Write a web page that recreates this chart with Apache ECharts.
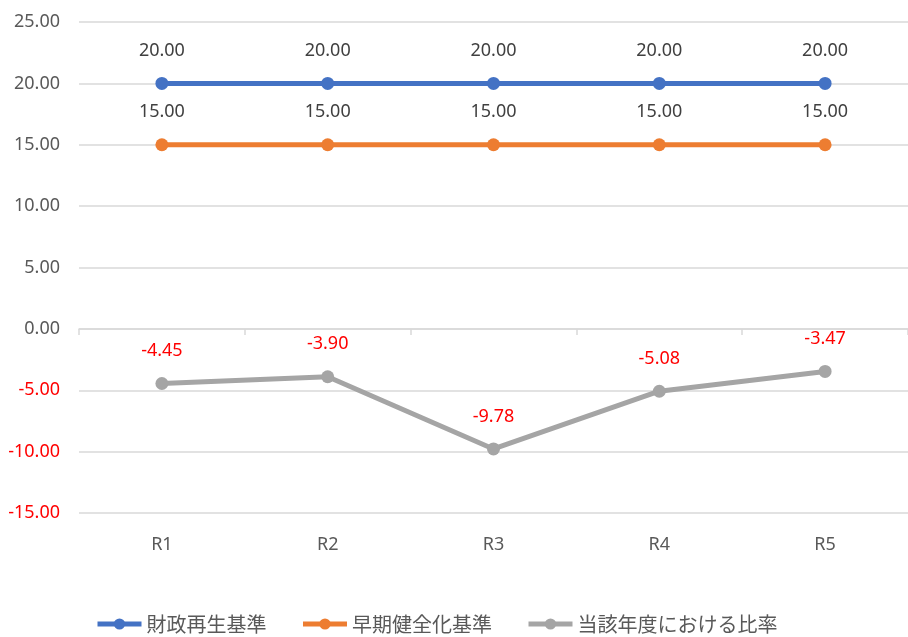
<!DOCTYPE html>
<html><head><meta charset="utf-8">
<script src="https://cdn.jsdelivr.net/npm/echarts@6/dist/echarts.min.js"></script>
<style>html,body{margin:0;padding:0;background:#fff}#c{width:908px;height:637px}</style>
</head><body><div id="c"></div>
<script>
const categories = ['R1','R2','R3','R4','R5'];
const seriesNames = ['財政再生基準','早期健全化基準','当該年度における比率'];
const saisei = [20,20,20,20,20];
const souki = [15,15,15,15,15];
const hiritsu = [-4.45,-3.90,-9.78,-5.08,-3.47];
const yTicks = [-15,-10,-5,0,5,10,15,20,25];
const colors = ['#4472C4','#ED7D31','#A5A5A5'];
const font = '"Noto Sans", "Noto Sans CJK JP", sans-serif';
const cjkFont = '"Noto Sans CJK JP", "Noto Sans", sans-serif';

const chart = echarts.init(document.getElementById('c'));
function mk(name, data, color, labelColor){
  return {
    name, type:'line', data, color,
    symbol:'circle', symbolSize:13,
    lineStyle:{width:5,color},
    itemStyle:{color},
    label:{show:true,position:'top',distance:17,fontSize:18,fontFamily:font,color:labelColor,
      formatter:p=>p.value.toFixed(2)},
    animation:false
  };
}
chart.setOption({
  animation:false,
  textStyle:{fontFamily:font},
  grid:{left:79,right:0,top:22,bottom:124,containLabel:false},
  xAxis:[{
    type:'category',data:categories,position:'bottom',
    axisLine:{show:false,onZero:false},axisTick:{show:false},
    axisLabel:{fontSize:18,color:'#595959',margin:23,fontFamily:font}
  },{
    type:'category',data:categories,position:'top',
    axisLine:{show:true,onZero:true,onZeroAxisIndex:0,lineStyle:{color:'#D9D9D9',width:1.5}},
    axisTick:{show:true,inside:true,length:6,lineStyle:{color:'#D9D9D9',width:1.5}},
    axisLabel:{show:false}
  }],
  yAxis:{
    type:'value',min:yTicks[0],max:yTicks[yTicks.length-1],interval:5,
    axisLine:{show:false},axisTick:{show:false},
    splitLine:{lineStyle:{color:'#D9D9D9',width:1.5}},
    axisLabel:{fontSize:18,margin:19,fontFamily:font,
      formatter:v=>v.toFixed(2),
      color:v=>v<0?'#FF0000':'#595959'}
  },
  legend:{
    bottom:-2,left:90,itemWidth:44,itemHeight:14,itemGap:34,
    lineStyle:{width:5},
    textStyle:{fontSize:20,color:'#595959',fontFamily:cjkFont},
    data:seriesNames
  },
  series:[
    mk(seriesNames[0],saisei,colors[0],'#404040'),
    mk(seriesNames[1],souki,colors[1],'#404040'),
    mk(seriesNames[2],hiritsu,colors[2],'#FF0000')
  ]
});
</script></body></html>
